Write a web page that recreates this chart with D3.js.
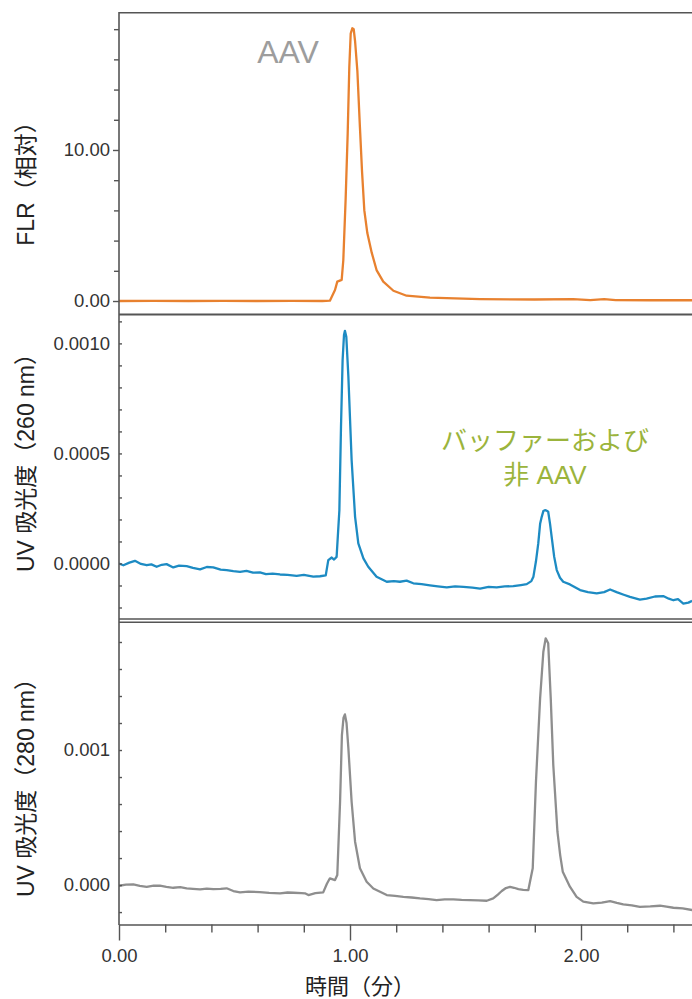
<!DOCTYPE html>
<html>
<head>
<meta charset="utf-8">
<script src="https://cdn.jsdelivr.net/npm/d3@7"></script>
<style>
  body { margin: 0; background: #fff; }
  svg { display: block; font-family: "Liberation Sans", Arial, "Noto Sans CJK JP", sans-serif; }
</style>
</head>
<body>
<svg id="chart" width="692" height="999"></svg>
<script>
// time axis (min)
const timeMajor = [0, 1, 2];
const timeMinor = [0.2, 0.4, 0.6, 0.8, 1.2, 1.4, 1.6, 1.8, 2.2, 2.4];

// FLR (relative) trace: [time, value]
const flrTrace = [
  [0.000, 0.00], [0.150, 0.01], [0.300, 0.00], [0.450, 0.01], [0.600, 0.00], [0.750, 0.01],
  [0.880, 0.00], [0.913, 0.02], [0.935, 0.73], [0.945, 1.28], [0.964, 1.40], [0.971, 2.70],
  [0.981, 6.70], [0.990, 11.1], [0.997, 15.5], [1.003, 17.7], [1.010, 18.06], [1.016, 18.0],
  [1.022, 17.2], [1.032, 15.2], [1.043, 11.5], [1.052, 8.6], [1.062, 6.0], [1.075, 4.5], [1.094, 3.2],
  [1.115, 2.05], [1.144, 1.28], [1.188, 0.68], [1.245, 0.35], [1.346, 0.22], [1.563, 0.13], [1.800, 0.10],
  [1.966, 0.13], [2.040, 0.06], [2.100, 0.12], [2.150, 0.06], [2.300, 0.05], [2.481, 0.05]
];
const flrMajor = [0, 10];
const flrMinor = [2, 4, 6, 8, 12, 14, 16, 18];

// UV 260 nm trace
const uv260Trace = [
  [0.000, 0.000000], [0.019, -0.000008], [0.045, 0.000004], [0.069, 0.000012], [0.095, -0.000002],
  [0.120, -0.000008], [0.140, -0.000004], [0.163, -0.000015], [0.185, -0.000006], [0.206, -0.000003],
  [0.235, -0.000018], [0.260, -0.000010], [0.293, -0.000012], [0.320, -0.000020], [0.351, -0.000027],
  [0.380, -0.000016], [0.408, -0.000018], [0.440, -0.000028], [0.466, -0.000030], [0.495, -0.000035],
  [0.524, -0.000038], [0.552, -0.000034], [0.580, -0.000042], [0.610, -0.000040], [0.636, -0.000048],
  [0.665, -0.000046], [0.697, -0.000050], [0.730, -0.000052], [0.769, -0.000056], [0.800, -0.000052],
  [0.841, -0.000060], [0.870, -0.000058], [0.895, -0.000054], [0.906, 0.000015], [0.921, 0.000027],
  [0.931, 0.000018], [0.942, 0.000030], [0.954, 0.000242], [0.961, 0.000620], [0.968, 0.000924],
  [0.974, 0.001038], [0.978, 0.001057], [0.984, 0.001030], [0.993, 0.000848], [1.007, 0.000470],
  [1.022, 0.000212], [1.036, 0.000091], [1.058, 0.000023], [1.079, -0.000015], [1.115, -0.000060],
  [1.159, -0.000083], [1.190, -0.000080], [1.216, -0.000083], [1.245, -0.000078], [1.274, -0.000090],
  [1.310, -0.000094], [1.346, -0.000099], [1.380, -0.000104], [1.419, -0.000109], [1.455, -0.000104],
  [1.491, -0.000106], [1.530, -0.000110], [1.563, -0.000114], [1.600, -0.000106], [1.635, -0.000109],
  [1.670, -0.000104], [1.707, -0.000103], [1.740, -0.000098], [1.765, -0.000094], [1.785, -0.000080],
  [1.794, -0.000060], [1.805, 0.000010], [1.815, 0.000091], [1.823, 0.000180], [1.830, 0.000212],
  [1.837, 0.000238], [1.844, 0.000242], [1.851, 0.000240], [1.858, 0.000235], [1.866, 0.000180],
  [1.873, 0.000121], [1.884, 0.000030], [1.895, -0.000030], [1.909, -0.000065], [1.923, -0.000083],
  [1.952, -0.000095], [1.996, -0.000121], [2.030, -0.000130], [2.068, -0.000136], [2.100, -0.000130],
  [2.126, -0.000118], [2.154, -0.000130], [2.185, -0.000142], [2.212, -0.000152], [2.255, -0.000164],
  [2.284, -0.000160], [2.320, -0.000150], [2.356, -0.000148], [2.380, -0.000160], [2.400, -0.000167],
  [2.420, -0.000162], [2.443, -0.000182], [2.465, -0.000178], [2.481, -0.000170]
];
const uv260Major = [0, 0.0005, 0.0010];
const uv260Minor = [-0.0002, -0.0001, 0.0001, 0.0002, 0.0003, 0.0004, 0.0006, 0.0007, 0.0008, 0.0009, 0.0011];

// UV 280 nm trace
const uv280Trace = [
  [0.000, -0.000005], [0.030, 0.000003], [0.062, 0.000005], [0.090, -0.000006], [0.120, -0.000013],
  [0.150, -0.000004], [0.177, -0.000005], [0.205, -0.000014], [0.235, -0.000020], [0.265, -0.000016],
  [0.293, -0.000024], [0.320, -0.000028], [0.351, -0.000032], [0.380, -0.000026], [0.408, -0.000030],
  [0.440, -0.000028], [0.466, -0.000024], [0.495, -0.000044], [0.524, -0.000054], [0.560, -0.000048],
  [0.610, -0.000052], [0.650, -0.000058], [0.697, -0.000061], [0.730, -0.000055], [0.755, -0.000057],
  [0.790, -0.000060], [0.805, -0.000061], [0.820, -0.000074], [0.850, -0.000060], [0.884, -0.000054],
  [0.900, 0.000010], [0.913, 0.000050], [0.935, 0.000037], [0.945, 0.000074], [0.957, 0.000617],
  [0.965, 0.001111], [0.972, 0.001240], [0.978, 0.001264], [0.985, 0.001200], [0.993, 0.001012],
  [1.007, 0.000617], [1.022, 0.000321], [1.043, 0.000124], [1.072, 0.000025], [1.101, -0.000025],
  [1.130, -0.000050], [1.159, -0.000074], [1.195, -0.000080], [1.231, -0.000087], [1.267, -0.000092],
  [1.303, -0.000099], [1.340, -0.000104], [1.375, -0.000111], [1.410, -0.000106], [1.447, -0.000106],
  [1.483, -0.000110], [1.519, -0.000111], [1.555, -0.000114], [1.592, -0.000116], [1.620, -0.000099],
  [1.640, -0.000070], [1.657, -0.000044], [1.675, -0.000022], [1.693, -0.000013], [1.710, -0.000020],
  [1.729, -0.000030], [1.750, -0.000035], [1.772, -0.000037], [1.791, 0.000124], [1.805, 0.000765],
  [1.823, 0.001383], [1.837, 0.001728], [1.847, 0.001827], [1.858, 0.001790], [1.869, 0.001383],
  [1.880, 0.000889], [1.898, 0.000395], [1.910, 0.000220], [1.921, 0.000099], [1.952, -0.000012],
  [1.981, -0.000087], [2.010, -0.000123], [2.053, -0.000136], [2.090, -0.000130], [2.126, -0.000119],
  [2.155, -0.000132], [2.183, -0.000143], [2.220, -0.000150], [2.255, -0.000161], [2.300, -0.000158],
  [2.342, -0.000153], [2.370, -0.000160], [2.400, -0.000168], [2.440, -0.000172], [2.481, -0.000185]
];
const uv280Major = [0, 0.001];
const uv280Minor = [-0.0002, 0.0002, 0.0004, 0.0006, 0.0008, 0.0012, 0.0014, 0.0016, 0.0018];

const svg = d3.select("#chart");
const left = 119, right = 692;

const x = d3.scaleLinear().domain([0, 2.4805]).range([left, right]);

const panels = [
  { trace: flrTrace, domain: [-0.86, 19.09], range: [314, 12.7], major: flrMajor, minor: flrMinor,
    fmt: d3.format(".2f"), color: "#E8812F", label: "FLR（相対）", labelY: 178, out: true },
  { trace: uv260Trace, domain: [-0.00025, 0.001129], range: [618.5, 315], major: uv260Major, minor: uv260Minor,
    fmt: d3.format(".4f"), color: "#1D8BC3", label: "UV 吸光度（260 nm）", labelY: 457, out: false },
  { trace: uv280Trace, domain: [-0.000292, 0.001948], range: [924.5, 622], major: uv280Major, minor: uv280Minor,
    fmt: d3.format(".3f"), color: "#8E8E8E", label: "UV 吸光度（280 nm）", labelY: 782, out: false }
];

panels.forEach((p, i) => {
  const y = d3.scaleLinear().domain(p.domain).range(p.range);

  const clipId = "clip" + i;
  svg.append("clipPath").attr("id", clipId)
    .append("rect")
    .attr("x", left).attr("y", p.range[1])
    .attr("width", right - left).attr("height", p.range[0] - p.range[1]);

  svg.append("path")
    .datum(p.trace)
    .attr("clip-path", `url(#${clipId})`)
    .attr("fill", "none")
    .attr("stroke", p.color)
    .attr("stroke-width", 2.3)
    .attr("stroke-linejoin", "round")
    .attr("d", d3.line().x(d => x(d[0])).y(d => y(d[1])));

  // minor ticks
  const minorAxis = svg.append("g")
    .attr("transform", `translate(${left},0)`)
    .call(d3.axisLeft(y).tickValues(p.minor).tickFormat("").tickSizeOuter(0)
      .tickSizeInner(p.out ? 5 : -3));
  minorAxis.select(".domain").remove();

  // major ticks + labels
  const majorAxis = svg.append("g")
    .attr("transform", `translate(${left},0)`)
    .call(d3.axisLeft(y).tickValues(p.major).tickFormat(p.fmt).tickSizeOuter(0)
      .tickSizeInner(p.out ? 6 : -3).tickPadding(p.out ? 3 : 9));
  majorAxis.select(".domain").remove();
  majorAxis.selectAll("text")
    .attr("font-size", 18.5)
    .attr("font-family", "'Liberation Sans', Arial, sans-serif")
    .attr("fill", "#333");

  svg.selectAll("g.tick line").attr("stroke", "#555");

  svg.append("text")
    .attr("transform", `translate(34,${p.labelY}) rotate(-90)`)
    .attr("text-anchor", "middle")
    .attr("font-size", 23)
    .attr("fill", "#222")
    .text(p.label);
});

// frame lines
const frame = svg.append("g").attr("stroke", "#555").attr("fill", "none");
frame.append("line").attr("x1", left).attr("x2", right).attr("y1", 12.7).attr("y2", 12.7).attr("stroke-width", 1.6);
frame.append("line").attr("x1", left).attr("x2", right).attr("y1", 314.5).attr("y2", 314.5).attr("stroke-width", 2);
frame.append("line").attr("x1", left).attr("x2", right).attr("y1", 619).attr("y2", 619).attr("stroke-width", 1.4);
frame.append("line").attr("x1", left).attr("x2", right).attr("y1", 622.2).attr("y2", 622.2).attr("stroke-width", 1.4);
frame.append("line").attr("x1", left).attr("x2", left).attr("y1", 12).attr("y2", 925).attr("stroke-width", 1.6);

// x axis
const xMinor = svg.append("g")
  .attr("transform", "translate(0,924.5)")
  .call(d3.axisBottom(x).tickValues(timeMinor).tickFormat("").tickSizeOuter(0).tickSizeInner(8));
xMinor.select(".domain").remove();

const xMajor = svg.append("g")
  .attr("transform", "translate(0,924.5)")
  .call(d3.axisBottom(x).tickValues(timeMajor).tickFormat(d3.format(".2f")).tickSizeOuter(0)
    .tickSizeInner(16).tickPadding(8));
xMajor.select(".domain").attr("stroke", "#555").attr("stroke-width", 1.6);
xMajor.selectAll("text")
  .attr("font-size", 18.5)
  .attr("font-family", "'Liberation Sans', Arial, sans-serif")
  .attr("fill", "#333");
svg.selectAll("g.tick line").attr("stroke", "#555").attr("stroke-width", 1.4);

svg.append("text")
  .attr("x", 360).attr("y", 994)
  .attr("text-anchor", "middle")
  .attr("font-size", 22)
  .attr("fill", "#222")
  .text("時間（分）");

// annotations
svg.append("text")
  .attr("x", 288).attr("y", 63)
  .attr("text-anchor", "middle")
  .attr("font-size", 32)
  .attr("fill", "#9d9d9d")
  .text("AAV");

const note = svg.append("text")
  .attr("text-anchor", "middle")
  .attr("font-size", 26)
  .attr("fill", "#9BB43C");
note.append("tspan").attr("x", 545).attr("y", 450).text("バッファーおよび");
note.append("tspan").attr("x", 545).attr("y", 484).text("非 AAV");
</script>
</body>
</html>
